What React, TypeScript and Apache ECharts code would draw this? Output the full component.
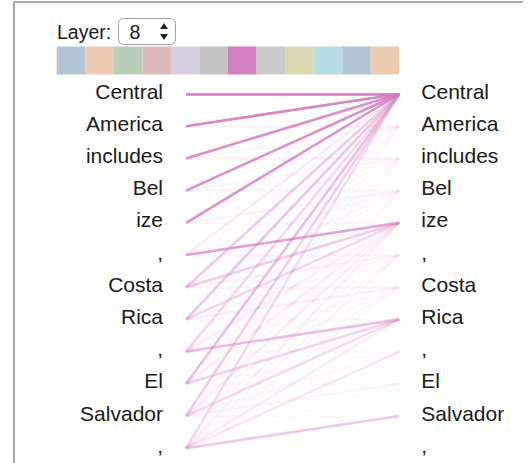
import React, { useEffect, useRef } from "react";
import * as echarts from "echarts";

const tokens = ["Central", "America", "includes", "Bel", "ize", ",", "Costa", "Rica", ",", "El", "Salvador", ","];

// attention rows: left token i -> right token j (causal, j <= i)
const att0 = [1.0];
const att1 = [0.92, 0.08];
const att2 = [0.86, 0.05, 0.09];
const att3 = [0.84, 0.04, 0.05, 0.07];
const att4 = [0.82, 0.03, 0.04, 0.07, 0.04];
const att5 = [0.14, 0.02, 0.03, 0.04, 0.7, 0.07];
const att6 = [0.38, 0.03, 0.04, 0.05, 0.35, 0.07, 0.08];
const att7 = [0.42, 0.02, 0.03, 0.04, 0.28, 0.06, 0.1, 0.05];
const att8 = [0.28, 0.02, 0.03, 0.04, 0.1, 0.03, 0.05, 0.48, 0.04];
const att9 = [0.48, 0.02, 0.02, 0.03, 0.12, 0.03, 0.04, 0.3, 0.03, 0.04];
const att10 = [0.35, 0.02, 0.02, 0.03, 0.12, 0.05, 0.04, 0.25, 0.06, 0.08, 0.04];
const att11 = [0.25, 0.02, 0.02, 0.03, 0.1, 0.06, 0.04, 0.14, 0.18, 0.03, 0.4, 0.03];
const attention = [att0, att1, att2, att3, att4, att5, att6, att7, att8, att9, att10, att11];

const headColors = [
  "#b0c5d6", "#eccbb0", "#b6cfb7", "#dcb9b9", "#d5cfdf", "#c4c4c4",
  "#d47fbf", "#cbcbcb", "#dadab2", "#b5dde2", "#b1c5d5", "#eccbae",
];
const layerValue = "8";

const FONT = "'Liberation Sans', Arial, Helvetica, sans-serif";

export default function App() {
  const ref = useRef<HTMLDivElement>(null);
  useEffect(() => {
    if (!ref.current) return;
    const chart = echarts.init(ref.current, null, { renderer: "svg" });
    const lineColor = "#d57bc1";
    const lineData: any[] = [];
    attention.forEach((row, i) => {
      row.forEach((w, j) => {
        lineData.push({ coords: [[0, i], [1, j]], lineStyle: { opacity: w } });
      });
    });
    lineData.sort((a, b) => a.lineStyle.opacity - b.lineStyle.opacity);

    const sqX0 = 56.7;
    const sqW = 28.55;
    const squares = headColors.map((c, k) => ({
      type: "rect",
      shape: { x: sqX0 + k * sqW, y: 46.5, width: sqW, height: 28 },
      style: { fill: c },
    }));

    const yAxisBase = {
      type: "value",
      min: 0,
      max: tokens.length - 1,
      interval: 1,
      inverse: true,
      axisLine: { show: false },
      axisTick: { show: false },
      splitLine: { show: false },
    };
    const labelBase = {
      fontSize: 21,
      fontFamily: FONT,
      color: "#1a1a1a",
      verticalAlign: "bottom",
      lineHeight: 6,
      formatter: (v: number) => tokens[v] ?? "",
    };

    chart.setOption({
      animation: false,
      backgroundColor: "#ffffff",
      grid: { left: 186, right: 131.7, top: 94, bottom: 14.8, containLabel: false },
      xAxis: { type: "value", min: 0, max: 1, show: false },
      yAxis: [
        { ...yAxisBase, position: "left", axisLabel: { ...labelBase, margin: 23 } },
        { ...yAxisBase, position: "right", axisLabel: { ...labelBase, margin: 22 } },
      ],
      series: [
        {
          type: "lines",
          coordinateSystem: "cartesian2d",
          polyline: false,
          silent: true,
          lineStyle: { color: lineColor, width: 2.6 },
          data: lineData,
        },
      ],
      graphic: [
        { type: "line", shape: { x1: 14, y1: 2, x2: 523, y2: 2 }, style: { stroke: "#8a8a8a", lineWidth: 1.5 } },
        { type: "line", shape: { x1: 14, y1: 2, x2: 14, y2: 463 }, style: { stroke: "#8a8a8a", lineWidth: 1.5 } },
        {
          type: "text",
          x: 57,
          y: 32,
          style: { text: "Layer:", fontSize: 19.5, fontFamily: FONT, fill: "#1a1a1a", verticalAlign: "middle", align: "left" },
        },
        {
          type: "rect",
          shape: { x: 118.5, y: 18.5, width: 57, height: 26, r: 5 },
          style: { fill: "#ffffff", stroke: "#a0a0a0", lineWidth: 1 },
        },
        {
          type: "text",
          x: 135,
          y: 32,
          style: { text: layerValue, fontSize: 19.5, fontFamily: FONT, fill: "#1a1a1a", verticalAlign: "middle", align: "center" },
        },
        { type: "polygon", shape: { points: [[160, 29], [164, 23], [168, 29]] }, style: { fill: "#222222" } },
        { type: "polygon", shape: { points: [[160, 34], [168, 34], [164, 40]] }, style: { fill: "#222222" } },
        ...squares,
      ],
    });
    return () => chart.dispose();
  }, []);
  return <div ref={ref} style={{ position: "fixed", left: 0, top: 0, width: 531, height: 463 }} />;
}
